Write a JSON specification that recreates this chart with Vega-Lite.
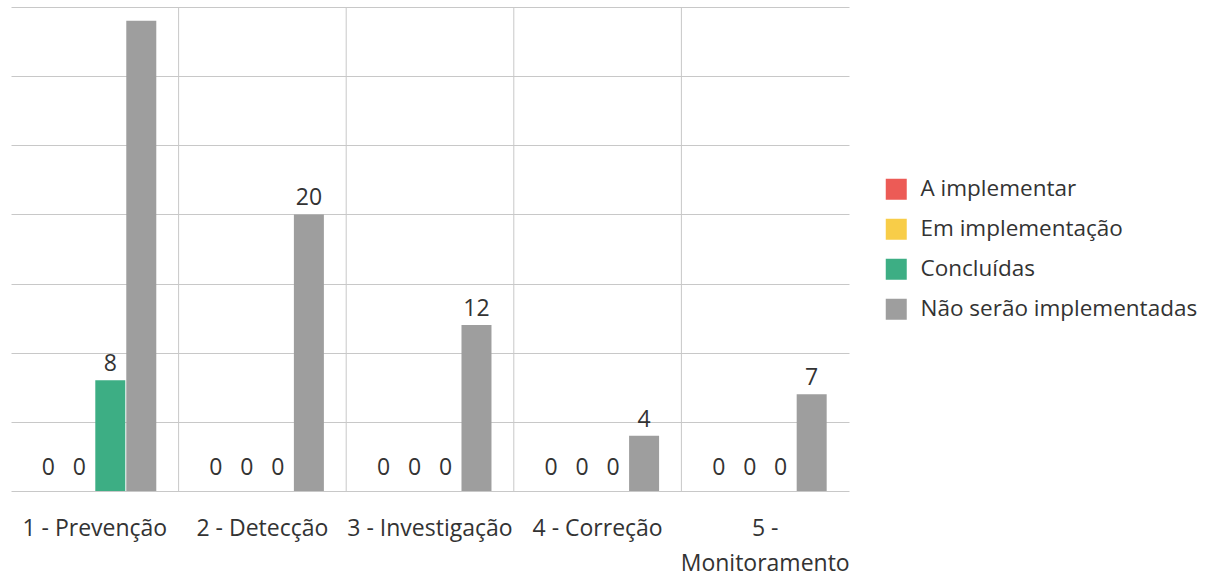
{
  "$schema": "https://vega.github.io/schema/vega-lite/v6.json",
  "width": 838,
  "height": 484,
  "autosize": {"type": "none"},
  "padding": {"left": 11, "top": 7, "right": 359, "bottom": 87},
  "config": {"view": {"stroke": null}, "font": "Open Sans"},
  "data": {
    "values": [
      {"categoria": "1 - Prevenção", "status": "A implementar", "valor": 0},
      {"categoria": "1 - Prevenção", "status": "Em implementação", "valor": 0},
      {"categoria": "1 - Prevenção", "status": "Concluídas", "valor": 8},
      {"categoria": "1 - Prevenção", "status": "Não serão implementadas", "valor": 34},
      {"categoria": "2 - Detecção", "status": "A implementar", "valor": 0},
      {"categoria": "2 - Detecção", "status": "Em implementação", "valor": 0},
      {"categoria": "2 - Detecção", "status": "Concluídas", "valor": 0},
      {"categoria": "2 - Detecção", "status": "Não serão implementadas", "valor": 20},
      {"categoria": "3 - Investigação", "status": "A implementar", "valor": 0},
      {"categoria": "3 - Investigação", "status": "Em implementação", "valor": 0},
      {"categoria": "3 - Investigação", "status": "Concluídas", "valor": 0},
      {"categoria": "3 - Investigação", "status": "Não serão implementadas", "valor": 12},
      {"categoria": "4 - Correção", "status": "A implementar", "valor": 0},
      {"categoria": "4 - Correção", "status": "Em implementação", "valor": 0},
      {"categoria": "4 - Correção", "status": "Concluídas", "valor": 0},
      {"categoria": "4 - Correção", "status": "Não serão implementadas", "valor": 4},
      {"categoria": "5 - Monitoramento", "status": "A implementar", "valor": 0},
      {"categoria": "5 - Monitoramento", "status": "Em implementação", "valor": 0},
      {"categoria": "5 - Monitoramento", "status": "Concluídas", "valor": 0},
      {"categoria": "5 - Monitoramento", "status": "Não serão implementadas", "valor": 7}
    ]
  },
  "encoding": {
    "x": {
      "field": "categoria",
      "type": "nominal",
      "sort": ["1 - Prevenção", "2 - Detecção", "3 - Investigação", "4 - Correção", "5 - Monitoramento"],
      "scale": {"paddingInner": 0, "paddingOuter": 0},
      "axis": {
        "title": null,
        "domain": false,
        "ticks": false,
        "grid": false,
        "labelAngle": 0,
        "labelFontSize": 23,
        "labelColor": "#333333",
        "labelPadding": 26,
        "labelLimit": 0,
        "labelLineHeight": 35,
        "labelExpr": "datum.value == '5 - Monitoramento' ? ['5 -', 'Monitoramento'] : datum.label"
      }
    }
  },
  "layer": [
    {
      "transform": [
        {"filter": "datum.status == 'A implementar' && datum.categoria != '1 - Prevenção'"}
      ],
      "mark": {"type": "rule", "color": "#c8c8c8", "strokeWidth": 1},
      "encoding": {
        "x": {"field": "categoria", "type": "nominal", "sort": ["1 - Prevenção", "2 - Detecção", "3 - Investigação", "4 - Correção", "5 - Monitoramento"], "bandPosition": 0}
      }
    },
    {
      "mark": {"type": "bar"},
      "encoding": {
        "xOffset": {
          "field": "status",
          "type": "nominal",
          "sort": ["A implementar", "Em implementação", "Concluídas", "Não serão implementadas"],
          "scale": {"paddingInner": 0.032, "paddingOuter": 0.72}
        },
        "y": {
          "field": "valor",
          "type": "quantitative",
          "scale": {"domain": [0, 35], "nice": false},
          "axis": {
            "title": null,
            "values": [0, 5, 10, 15, 20, 25, 30, 35],
            "labels": false,
            "ticks": false,
            "domain": false,
            "grid": true,
            "gridColor": "#c8c8c8"
          }
        },
        "color": {
          "field": "status",
          "type": "nominal",
          "scale": {
            "domain": ["A implementar", "Em implementação", "Concluídas", "Não serão implementadas"],
            "range": ["#EC5B56", "#F8CD48", "#3DAE84", "#9E9E9E"]
          },
          "legend": {
            "orient": "none",
            "legendX": 874,
            "legendY": 171,
            "title": null,
            "symbolType": "square",
            "symbolSize": 441,
            "symbolStrokeWidth": 0,
            "symbolOpacity": 1,
            "labelFontSize": 22.5,
            "labelColor": "#333333",
            "labelOffset": 13,
            "labelLimit": 0,
            "rowPadding": 17,
            "padding": 0
          }
        }
      }
    },
    {
      "transform": [{"filter": "datum.valor <= 30"}],
      "mark": {"type": "text", "baseline": "bottom", "dy": {"expr": "datum.valor == 0 ? -11 : -4"}, "fontSize": 23, "color": "#333333"},
      "encoding": {
        "xOffset": {
          "field": "status",
          "type": "nominal",
          "sort": ["A implementar", "Em implementação", "Concluídas", "Não serão implementadas"]
        },
        "y": {"field": "valor", "type": "quantitative"},
        "text": {"field": "valor", "type": "quantitative"}
      }
    }
  ]
}
